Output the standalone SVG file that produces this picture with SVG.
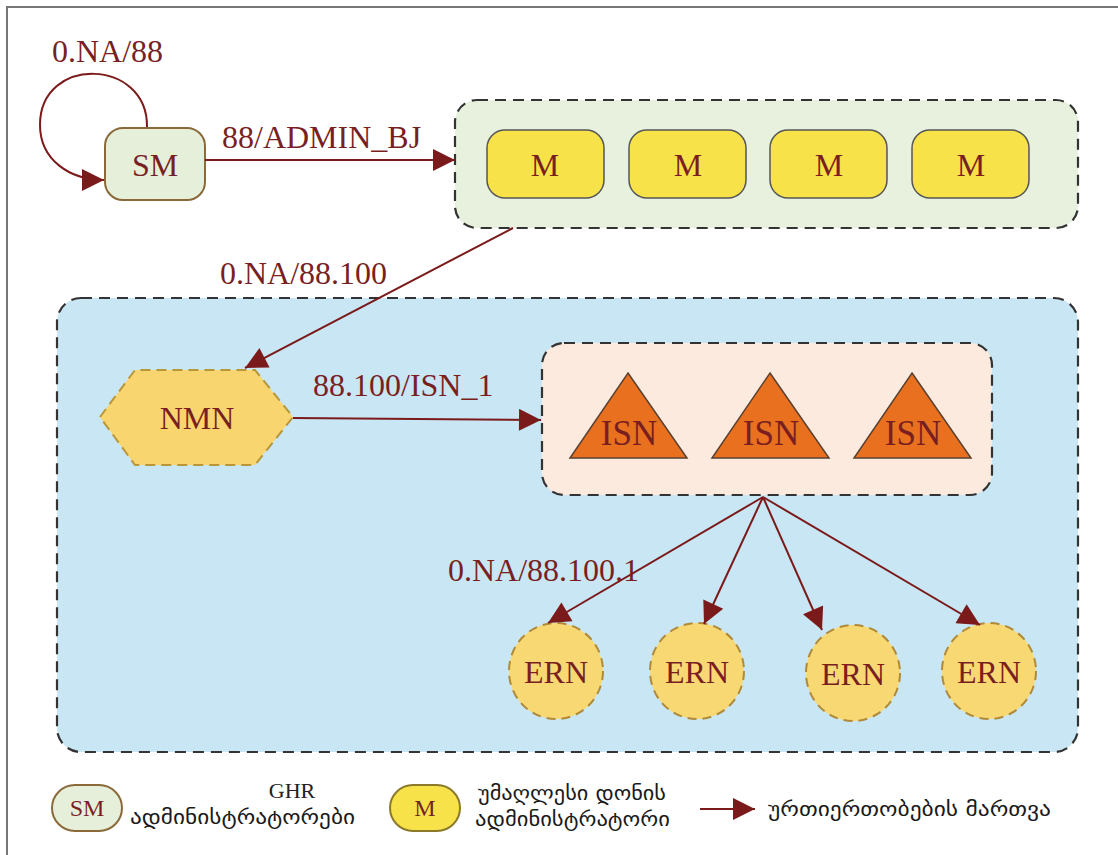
<svg xmlns="http://www.w3.org/2000/svg" width="1118" height="855" viewBox="0 0 1118 855">
  <defs>
    <marker id="arrow" viewBox="0 0 10 10" refX="10" refY="5" markerUnits="userSpaceOnUse" markerWidth="26" markerHeight="22" orient="auto">
      <path d="M0,0 L10,5 L0,10 z" fill="#7b1a1a"/>
    </marker>
    <style>
      .lbl { font-family: "Liberation Serif", "Times New Roman", serif; font-size: 32px; fill: #7a1f1f; }
      .nodetxt { font-family: "Liberation Serif", "Times New Roman", serif; font-size: 32px; fill: #7a1f1f; text-anchor: middle; }
      .geo { font-family: "DejaVu Sans", "Noto Sans", sans-serif; font-size: 20px; fill: #1a1a1a; }
      .edge { stroke: #7b1a1a; stroke-width: 2; fill: none; marker-end: url(#arrow); }
      .group { stroke: #333; stroke-width: 2.2; stroke-dasharray: 11 7; }
      .mbox { fill: #f7e24a; stroke: #555; stroke-width: 1.5; }
      .isn { fill: #e8701f; stroke: #5a4030; stroke-width: 1.5; }
      .ern { fill: #f8d873; stroke: #b08a38; stroke-width: 2; stroke-dasharray: 9 6; }
    </style>
  </defs>

  <!-- page background and frame -->
  <rect x="0" y="0" width="1118" height="855" fill="#ffffff"/>
  <path d="M7,855 L7,7 L1118,7" fill="none" stroke="#777" stroke-width="2"/>

  <!-- top group: M administrators -->
  <g id="group-m">
    <rect class="group" x="455" y="100" width="623" height="128" rx="22" fill="#e7f1dd"/>
  </g>

  <!-- lower group -->
  <g id="group-blue">
    <rect class="group" x="57" y="298" width="1021" height="454" rx="24" fill="#c9e6f4"/>
  </g>

  <!-- ISN group -->
  <g id="group-isn">
    <rect class="group" x="542" y="343" width="450" height="152" rx="22" fill="#fbeadd"/>
  </g>

  <!-- nodes -->
  <g id="node-sm">
    <rect x="105" y="128" width="100" height="72" rx="18" fill="#e6efd9" stroke="#8b6a3a" stroke-width="2"/>
    <text class="nodetxt" x="155" y="176">SM</text>
  </g>

  <g id="node-m1">
    <rect class="mbox" x="487" y="130" width="117" height="68" rx="18"/>
    <text class="nodetxt" x="545" y="176">M</text>
  </g>
  <g id="node-m2">
    <rect class="mbox" x="629" y="130" width="117" height="68" rx="18"/>
    <text class="nodetxt" x="688" y="176">M</text>
  </g>
  <g id="node-m3">
    <rect class="mbox" x="770" y="130" width="117" height="68" rx="18"/>
    <text class="nodetxt" x="829" y="176">M</text>
  </g>
  <g id="node-m4">
    <rect class="mbox" x="912" y="130" width="117" height="68" rx="18"/>
    <text class="nodetxt" x="971" y="176">M</text>
  </g>

  <g id="node-nmn">
    <polygon points="100,417 135,370 255,370 293,417 255,465 135,465" fill="#f8d56e" stroke="#b8963a" stroke-width="2" stroke-dasharray="10 6"/>
    <text class="nodetxt" x="197" y="429">NMN</text>
  </g>

  <g id="node-isn1">
    <polygon class="isn" points="628,373 687,458 570,458"/>
    <text class="nodetxt" x="629" y="445" style="font-size:35px">ISN</text>
  </g>
  <g id="node-isn2">
    <polygon class="isn" points="770,373 829,458 712,458"/>
    <text class="nodetxt" x="771" y="445" style="font-size:35px">ISN</text>
  </g>
  <g id="node-isn3">
    <polygon class="isn" points="912,373 971,458 854,458"/>
    <text class="nodetxt" x="913" y="445" style="font-size:35px">ISN</text>
  </g>

  <g id="node-ern1">
    <ellipse class="ern" cx="556" cy="671" rx="47" ry="48"/>
    <text class="nodetxt" x="556" y="683">ERN</text>
  </g>
  <g id="node-ern2">
    <ellipse class="ern" cx="697" cy="671" rx="47" ry="48"/>
    <text class="nodetxt" x="697" y="683">ERN</text>
  </g>
  <g id="node-ern3">
    <ellipse class="ern" cx="853" cy="673" rx="47" ry="48"/>
    <text class="nodetxt" x="853" y="685">ERN</text>
  </g>
  <g id="node-ern4">
    <ellipse class="ern" cx="989" cy="671" rx="47" ry="48"/>
    <text class="nodetxt" x="989" y="683">ERN</text>
  </g>

  <!-- connectors -->
  <g id="connectors">
    <path class="edge" d="M147,127 C148,58 40,55 40,125 C40,160 70,180 104,180"/>
    <text class="lbl" x="52" y="62">0.NA/88</text>

    <path class="edge" d="M205,160 L455,160"/>
    <text class="lbl" x="222" y="148">88/ADMIN_BJ</text>

    <path class="edge" d="M513,228 L245,368"/>
    <text class="lbl" x="220" y="284">0.NA/88.100</text>

    <path class="edge" d="M293,418 L541,420"/>
    <text class="lbl" x="313" y="396">88.100/ISN_1</text>

    <path class="edge" d="M763,497 L548,623"/>
    <path class="edge" d="M763,497 L704,624"/>
    <path class="edge" d="M763,497 L822,630"/>
    <path class="edge" d="M763,497 L980,625"/>
    <text class="lbl" x="448" y="581">0.NA/88.100.1</text>
  </g>

  <!-- legend -->
  <g id="legend-sm">
    <rect x="52" y="785" width="70" height="46" rx="23" fill="#e6efd9" stroke="#8b6a3a" stroke-width="2"/>
    <text class="nodetxt" x="87" y="816" style="font-size:24px">SM</text>
    <text x="292" y="798" text-anchor="middle" style="font-family:'Liberation Serif',serif;font-size:22px;fill:#222">GHR</text>
    <text class="geo" x="130" y="824" textLength="225" lengthAdjust="spacingAndGlyphs">ადმინისტრატორები</text>
  </g>
  <g id="legend-m">
    <rect x="390" y="785" width="70" height="46" rx="23" fill="#f7e24a" stroke="#8b7a2a" stroke-width="2"/>
    <text class="nodetxt" x="425" y="816" style="font-size:24px">M</text>
    <text class="geo" x="478" y="800" textLength="188" lengthAdjust="spacingAndGlyphs">უმაღლესი დონის</text>
    <text class="geo" x="475" y="826" textLength="195" lengthAdjust="spacingAndGlyphs">ადმინისტრატორი</text>
  </g>
  <g id="legend-edge">
    <path class="edge" d="M700,809 L755,809"/>
    <text class="geo" x="768" y="816" textLength="283" lengthAdjust="spacingAndGlyphs">ურთიერთობების მართვა</text>
  </g>
</svg>
